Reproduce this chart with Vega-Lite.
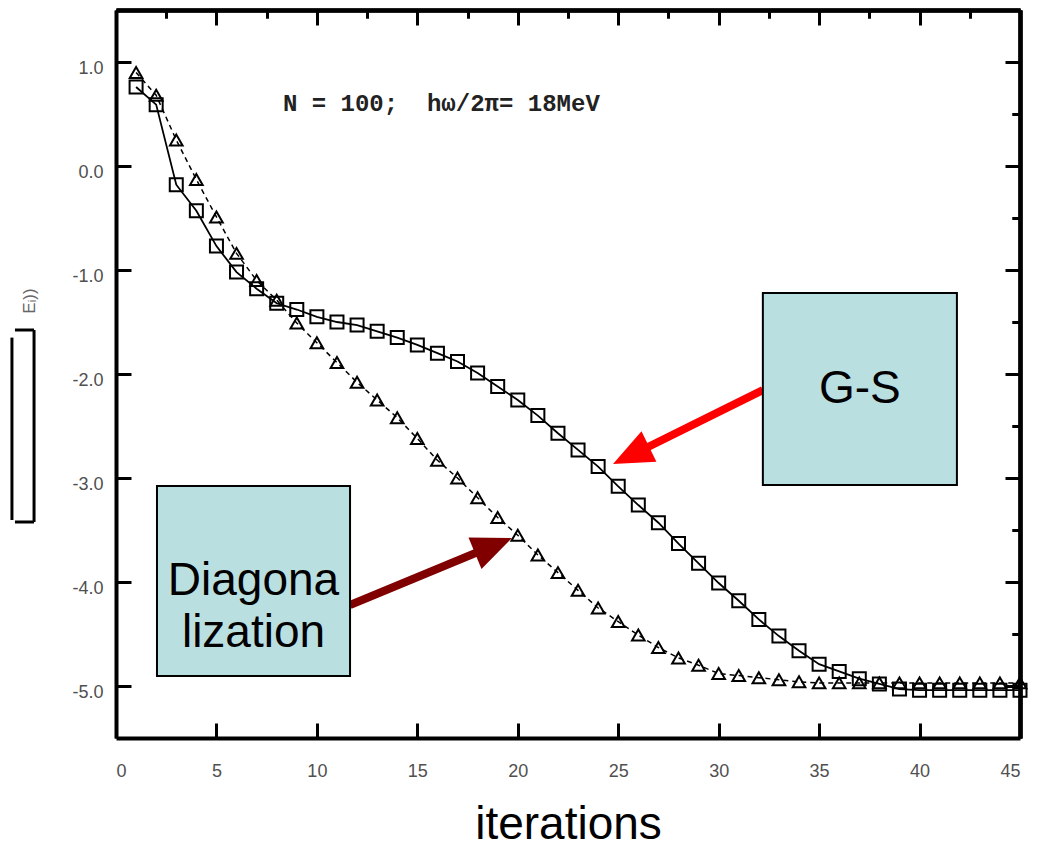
{
  "$schema": "https://vega.github.io/schema/vega-lite/v6.json",
  "width": 904,
  "height": 728,
  "autosize": {"type": "none"},
  "padding": {"left": 116, "top": 10, "right": 19, "bottom": 112},
  "background": "white",
  "config": {
    "view": {"stroke": null},
    "axis": {"grid": false, "domainColor": "black", "domainWidth": 4, "tickColor": "black", "tickWidth": 3, "labelFont": "Liberation Sans", "labelColor": "#505050", "labelFontSize": 18, "titleFont": "Liberation Sans"}
  },
  "datasets": {
    "gs": [
      {"iter": 1, "value": 0.76}, {"iter": 2, "value": 0.59}, {"iter": 3, "value": -0.18}, {"iter": 4, "value": -0.43}, {"iter": 5, "value": -0.77},
      {"iter": 6, "value": -1.02}, {"iter": 7, "value": -1.18}, {"iter": 8, "value": -1.32}, {"iter": 9, "value": -1.38}, {"iter": 10, "value": -1.45},
      {"iter": 11, "value": -1.5}, {"iter": 12, "value": -1.53}, {"iter": 13, "value": -1.59}, {"iter": 14, "value": -1.65}, {"iter": 15, "value": -1.72},
      {"iter": 16, "value": -1.8}, {"iter": 17, "value": -1.88}, {"iter": 18, "value": -1.99}, {"iter": 19, "value": -2.12}, {"iter": 20, "value": -2.25},
      {"iter": 21, "value": -2.4}, {"iter": 22, "value": -2.57}, {"iter": 23, "value": -2.73}, {"iter": 24, "value": -2.89}, {"iter": 25, "value": -3.08},
      {"iter": 26, "value": -3.26}, {"iter": 27, "value": -3.43}, {"iter": 28, "value": -3.63}, {"iter": 29, "value": -3.82}, {"iter": 30, "value": -4.01},
      {"iter": 31, "value": -4.18}, {"iter": 32, "value": -4.36}, {"iter": 33, "value": -4.52}, {"iter": 34, "value": -4.66}, {"iter": 35, "value": -4.79},
      {"iter": 36, "value": -4.86}, {"iter": 37, "value": -4.93}, {"iter": 38, "value": -4.98}, {"iter": 39, "value": -5.03}, {"iter": 40, "value": -5.04},
      {"iter": 41, "value": -5.04}, {"iter": 42, "value": -5.04}, {"iter": 43, "value": -5.04}, {"iter": 44, "value": -5.04}, {"iter": 45, "value": -5.04}
    ],
    "diag": [
      {"iter": 1, "value": 0.9}, {"iter": 2, "value": 0.68}, {"iter": 3, "value": 0.25}, {"iter": 4, "value": -0.13}, {"iter": 5, "value": -0.49},
      {"iter": 6, "value": -0.84}, {"iter": 7, "value": -1.1}, {"iter": 8, "value": -1.29}, {"iter": 9, "value": -1.51}, {"iter": 10, "value": -1.7},
      {"iter": 11, "value": -1.89}, {"iter": 12, "value": -2.08}, {"iter": 13, "value": -2.25}, {"iter": 14, "value": -2.42}, {"iter": 15, "value": -2.62},
      {"iter": 16, "value": -2.83}, {"iter": 17, "value": -3.0}, {"iter": 18, "value": -3.19}, {"iter": 19, "value": -3.38}, {"iter": 20, "value": -3.55},
      {"iter": 21, "value": -3.74}, {"iter": 22, "value": -3.91}, {"iter": 23, "value": -4.08}, {"iter": 24, "value": -4.25}, {"iter": 25, "value": -4.38},
      {"iter": 26, "value": -4.51}, {"iter": 27, "value": -4.63}, {"iter": 28, "value": -4.73}, {"iter": 29, "value": -4.8}, {"iter": 30, "value": -4.88},
      {"iter": 31, "value": -4.9}, {"iter": 32, "value": -4.92}, {"iter": 33, "value": -4.94}, {"iter": 34, "value": -4.96}, {"iter": 35, "value": -4.97},
      {"iter": 36, "value": -4.97}, {"iter": 37, "value": -4.97}, {"iter": 38, "value": -4.97}, {"iter": 39, "value": -4.97}, {"iter": 40, "value": -4.97},
      {"iter": 41, "value": -4.97}, {"iter": 42, "value": -4.97}, {"iter": 43, "value": -4.97}, {"iter": 44, "value": -4.97}, {"iter": 45, "value": -4.97}
    ],
    "boxes": [
      {"name": "gs", "x1": 32.2, "x2": 41.86, "y1": -1.221, "y2": -3.067, "label": "G-S"},
      {"name": "diag", "x1": 2.04, "x2": 11.65, "y1": -3.077, "y2": -4.904, "label": "Diagona\nlization"}
    ],
    "arrows": [
      {"name": "gs", "x1": 32.2, "y1": -2.154, "xb": 26.08, "yb": -2.74, "xt": 24.74, "yt": -2.865},
      {"name": "diag", "x1": 11.65, "y1": -4.221, "xb": 18.32, "yb": -3.688, "xt": 19.71, "yt": -3.577}
    ],
    "bracket": [
      {"x1": -5.18, "x2": -5.18, "y1": -1.65, "y2": -3.404},
      {"x1": -4.08, "x2": -4.08, "y1": -1.577, "y2": -3.423},
      {"x1": -5.03, "x2": -4.08, "y1": -1.577, "y2": -1.577},
      {"x1": -5.03, "x2": -4.08, "y1": -3.423, "y2": -3.423}
    ],
    "notes": [
      {"x": 8.31, "y": 0.6, "text": "N = 100;\u00a0\u00a0hω/2π= 18MeV"}
    ],
    "ytitle": [
      {"x": -4.3, "y": -1.42, "text": "Eᵢ))"}
    ]
  },
  "layer": [
    {
      "data": {"name": "gs"},
      "mark": {"type": "line", "color": "black", "strokeWidth": 1.8},
      "encoding": {
        "x": {"field": "iter", "type": "quantitative", "scale": {"domain": [0, 45], "nice": false, "zero": false},
          "axis": {"values": [0, 5, 10, 15, 20, 25, 30, 35, 40, 45], "tickSize": -15, "labelPadding": 39, "labelAngle": 0, "format": "d",
            "title": "iterations", "titleFontSize": 46, "titleColor": "black", "titleFontWeight": "normal", "titlePadding": 22}},
        "y": {"field": "value", "type": "quantitative", "scale": {"domain": [-5.5, 1.5], "nice": false, "zero": false},
          "axis": {"values": [-5, -4, -3, -2, -1, 0, 1], "tickSize": -15, "labelPadding": 28, "labelOffset": 6,
            "labelExpr": "replace(format(datum.value, '.1f'), '\u2212', '-')", "title": null}}
      }
    },
    {
      "data": {"name": "diag"},
      "mark": {"type": "line", "color": "black", "strokeWidth": 1.5, "strokeDash": [5, 4]},
      "encoding": {
        "x": {"field": "iter", "type": "quantitative", "scale": {"domain": [0, 45], "nice": false, "zero": false},
          "axis": {"values": [2.5, 7.5, 12.5, 17.5, 22.5, 27.5, 32.5, 37.5, 42.5], "tickSize": -8, "labels": false, "title": null}},
        "y": {"field": "value", "type": "quantitative", "scale": {"domain": [-5.5, 1.5], "nice": false, "zero": false},
          "axis": {"values": [-4.5, -3.5, -2.5, -1.5, -0.5, 0.5], "tickSize": -8, "labels": false, "title": null}}
      }
    },
    {
      "data": {"name": "gs"},
      "mark": {"type": "point", "shape": "square", "size": 169, "filled": false, "color": "black", "strokeWidth": 2, "opacity": 1},
      "encoding": {
        "x": {"field": "iter", "type": "quantitative", "scale": {"domain": [0, 45], "nice": false, "zero": false},
          "axis": {"orient": "top", "values": [0, 5, 10, 15, 20, 25, 30, 35, 40, 45], "tickSize": -15, "labels": false, "title": null}},
        "y": {"field": "value", "type": "quantitative", "scale": {"domain": [-5.5, 1.5], "nice": false, "zero": false},
          "axis": {"orient": "right", "values": [-5, -4, -3, -2, -1, 0, 1], "tickSize": -15, "labels": false, "title": null}}
      }
    },
    {
      "data": {"name": "diag"},
      "mark": {"type": "point", "shape": "triangle-up", "size": 160, "filled": false, "color": "black", "strokeWidth": 2, "opacity": 1},
      "encoding": {
        "x": {"field": "iter", "type": "quantitative", "scale": {"domain": [0, 45], "nice": false, "zero": false},
          "axis": {"orient": "top", "values": [2.5, 7.5, 12.5, 17.5, 22.5, 27.5, 32.5, 37.5, 42.5], "tickSize": -8, "labels": false, "title": null}},
        "y": {"field": "value", "type": "quantitative", "scale": {"domain": [-5.5, 1.5], "nice": false, "zero": false},
          "axis": {"orient": "right", "values": [-4.5, -3.5, -2.5, -1.5, -0.5, 0.5], "tickSize": -8, "labels": false, "title": null}}
      }
    },
    {
      "data": {"name": "arrows"},
      "mark": {"type": "rule", "strokeWidth": 8},
      "encoding": {
        "x": {"field": "x1", "type": "quantitative", "axis": null},
        "y": {"field": "y1", "type": "quantitative", "axis": null},
        "x2": {"field": "xb"},
        "y2": {"field": "yb"},
        "color": {"field": "name", "type": "nominal", "scale": {"domain": ["gs", "diag"], "range": ["#FF0000", "#800000"]}, "legend": null}
      }
    },
    {
      "data": {"name": "arrows"},
      "transform": [{"filter": "datum.name === 'gs'"}],
      "mark": {"type": "point", "shape": "M0,0L-0.85,2L0.85,2Z", "size": 1600, "filled": true, "color": "#FF0000", "opacity": 1, "angle": 244},
      "encoding": {
        "x": {"field": "xt", "type": "quantitative", "axis": null},
        "y": {"field": "yt", "type": "quantitative", "axis": null}
      }
    },
    {
      "data": {"name": "arrows"},
      "transform": [{"filter": "datum.name === 'diag'"}],
      "mark": {"type": "point", "shape": "M0,0L-0.85,2L0.85,2Z", "size": 1600, "filled": true, "color": "#800000", "opacity": 1, "angle": 67.5},
      "encoding": {
        "x": {"field": "xt", "type": "quantitative", "axis": null},
        "y": {"field": "yt", "type": "quantitative", "axis": null}
      }
    },
    {
      "data": {"name": "boxes"},
      "mark": {"type": "rect", "fill": "#BADFE1", "stroke": "black", "strokeWidth": 2},
      "encoding": {
        "x": {"field": "x1", "type": "quantitative", "axis": null},
        "x2": {"field": "x2"},
        "y": {"field": "y1", "type": "quantitative", "axis": null},
        "y2": {"field": "y2"}
      }
    },
    {
      "data": {"name": "boxes"},
      "transform": [{"calculate": "(datum.x1 + datum.x2) / 2", "as": "xc"}, {"calculate": "(datum.y1 + datum.y2) / 2", "as": "yc"}],
      "mark": {"type": "text", "font": "Liberation Sans", "fontSize": 46, "color": "black", "align": "center", "baseline": "middle", "lineBreak": "\n", "lineHeight": 52},
      "encoding": {
        "x": {"field": "xc", "type": "quantitative", "axis": null},
        "y": {"field": "yc", "type": "quantitative", "axis": null},
        "text": {"field": "label"}
      }
    },
    {
      "data": {"name": "notes"},
      "mark": {"type": "text", "font": "Liberation Mono", "fontWeight": "bold", "fontSize": 24, "color": "#222222", "align": "left", "baseline": "middle"},
      "encoding": {
        "x": {"field": "x", "type": "quantitative", "axis": null},
        "y": {"field": "y", "type": "quantitative", "axis": null},
        "text": {"field": "text"}
      }
    },
    {
      "data": {"name": "bracket"},
      "mark": {"type": "rule", "color": "black", "strokeWidth": 3},
      "encoding": {
        "x": {"field": "x1", "type": "quantitative", "axis": null},
        "x2": {"field": "x2"},
        "y": {"field": "y1", "type": "quantitative", "axis": null},
        "y2": {"field": "y2"}
      }
    },
    {
      "data": {"name": "ytitle"},
      "mark": {"type": "text", "font": "Liberation Sans", "fontSize": 17, "color": "#666666", "align": "left", "baseline": "middle", "angle": 270},
      "encoding": {
        "x": {"field": "x", "type": "quantitative", "axis": null},
        "y": {"field": "y", "type": "quantitative", "axis": null},
        "text": {"field": "text"}
      }
    }
  ],
  "resolve": {"axis": {"x": "independent", "y": "independent"}}
}
